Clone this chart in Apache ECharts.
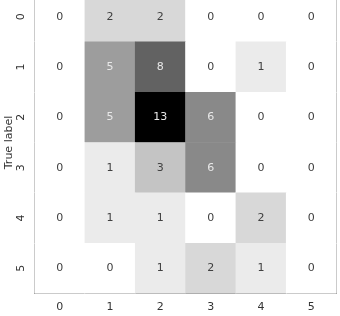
<!DOCTYPE html>
<html><head><meta charset="utf-8">
<script src="https://cdn.jsdelivr.net/npm/echarts@6/dist/echarts.min.js"></script>
<style>html,body{margin:0;padding:0;background:#fff}#c{width:340px;height:316px}</style>
</head><body><div id="c"></div>
<script>
const predictedLabels = ['0','1','2','3','4','5'];
const trueLabels = ['0','1','2','3','4','5'];
const row0 = [0,2,2,0,0,0];
const row1 = [0,5,8,0,1,0];
const row2 = [0,5,13,6,0,0];
const row3 = [0,1,3,6,0,0];
const row4 = [0,1,1,0,2,0];
const row5 = [0,0,1,2,1,0];
const yAxisTitle = 'True label';

const matrix = [row0,row1,row2,row3,row4,row5];
const data = [];
matrix.forEach((r,i)=>r.forEach((v,j)=>data.push([j,i,v])));
const vmax = 13;
const font = 'DejaVu Sans';

const chart = echarts.init(document.getElementById('c'), null, {renderer:'canvas'});
chart.setOption({
  animation:false,
  grid:{left:34.5, top:-8.5, width:302, height:302, outerBoundsMode:'none', containLabel:false,
    show:true, borderColor:'#333', borderWidth:1, backgroundColor:'transparent'},
  xAxis:{type:'category', data:predictedLabels, position:'bottom',
    axisLine:{lineStyle:{color:'#333',width:1}},
    axisTick:{alignWithLabel:true, length:4, lineStyle:{color:'#333'}},
    axisLabel:{color:'#333', fontFamily:font, fontSize:11, margin:8},
    splitLine:{show:false}},
  yAxis:{type:'category', data:trueLabels, inverse:true,
    name:yAxisTitle, nameLocation:'middle', nameGap:20, nameRotate:90, nameMoveOverlap:false,
    nameTextStyle:{color:'#333', fontFamily:font, fontSize:11},
    axisLine:{lineStyle:{color:'#333',width:1}},
    axisTick:{alignWithLabel:true, length:4, lineStyle:{color:'#333'}},
    axisLabel:{color:'#333', fontFamily:font, fontSize:11, rotate:90, margin:8},
    splitLine:{show:false}},
  visualMap:{show:false, type:'continuous', min:0, max:vmax, dimension:2, inRange:{color:['#ffffff','#000000']}},
  series:[{type:'heatmap', data:data,
    itemStyle:{borderWidth:0},
    label:{show:true, fontFamily:font, fontSize:11,
      formatter:p=> p.value[2] >= 4 ? '{w|'+p.value[2]+'}' : '{d|'+p.value[2]+'}',
      rich:{w:{color:'#e8e8e8', fontFamily:font, fontSize:11}, d:{color:'#404040', fontFamily:font, fontSize:11}}},
    emphasis:{disabled:true}
  }]
});
</script></body></html>
